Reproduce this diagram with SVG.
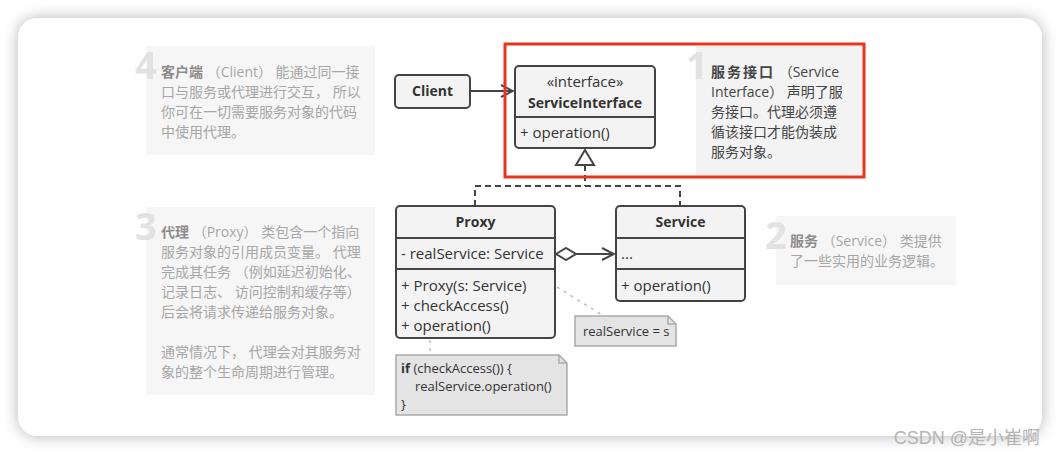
<svg xmlns="http://www.w3.org/2000/svg" width="1060" height="454" viewBox="0 0 1060 454">
<defs>
<filter id="sh" x="-10%" y="-10%" width="120%" height="120%">
<feGaussianBlur in="SourceAlpha" stdDeviation="8"/>
<feComponentTransfer><feFuncA type="linear" slope="0.3"/></feComponentTransfer>
<feMerge><feMergeNode/><feMergeNode in="SourceGraphic"/></feMerge>
</filter>
<marker id="open" viewBox="0 0 14 14" refX="13" refY="7" markerWidth="14" markerHeight="14" markerUnits="userSpaceOnUse" orient="auto">
<path d="M1,1 L13,7 L1,13" fill="none" stroke="#444" stroke-width="2"/>
</marker>
<marker id="dia" viewBox="0 0 24 14" refX="1" refY="7" markerWidth="24" markerHeight="14" markerUnits="userSpaceOnUse" orient="auto">
<path d="M1,7 L11,1 L21,7 L11,13 Z" fill="#fff" stroke="#444" stroke-width="2"/>
</marker>
</defs>
<style>
.box{fill:#f3f3f3;stroke:#444;stroke-width:2}
.ln{stroke:#444;stroke-width:2;fill:none}
.t{font-family:"Open Sans","Noto Sans","Noto Sans CJK SC",sans-serif;font-size:15px;fill:#333}
.b{font-weight:bold}
.h{font-size:14px}
.nb{fill:#f6f6f6}
.nt{font-family:"Open Sans","Noto Sans","Noto Sans CJK SC",sans-serif;font-size:14px;fill:#a6a6a6}
.nt1{fill:#444}
.big{font-family:"Open Sans","Noto Sans",sans-serif;font-size:38px;font-weight:bold;fill:#e2e2e2}
.note{fill:#e4e4e4;stroke:#aaa;stroke-width:1.5}
.ct{font-family:"Open Sans","Noto Sans",sans-serif;font-size:13px;fill:#333}
.dot{stroke:#bbb;stroke-width:1.5;stroke-dasharray:3 5;fill:none}
</style>
<rect width="1060" height="454" fill="#fff"/>
<rect x="18" y="18" width="1024" height="418" rx="20" fill="#fff" filter="url(#sh)"/>

<g id="note4">
<rect class="nb" x="146" y="46" width="229" height="109"/>
<text class="big" x="135" y="79">4</text>
<text class="nt" x="161" y="77"><tspan class="b" fill="#8c8c8c">客户端</tspan> （Client） 能通过同一接</text>
<text class="nt" x="161" y="97">口与服务或代理进行交互， 所以</text>
<text class="nt" x="161" y="117">你可在一切需要服务对象的代码</text>
<text class="nt" x="161" y="137">中使用代理。</text>
</g>

<g id="note3">
<rect class="nb" x="146" y="207" width="229" height="188"/>
<text class="big" x="135" y="240">3</text>
<text class="nt" x="161" y="237"><tspan class="b" fill="#8c8c8c">代理</tspan> （Proxy） 类包含一个指向</text>
<text class="nt" x="161" y="257">服务对象的引用成员变量。 代理</text>
<text class="nt" x="161" y="277">完成其任务 （例如延迟初始化、</text>
<text class="nt" x="161" y="297">记录日志、 访问控制和缓存等）</text>
<text class="nt" x="161" y="317">后会将请求传递给服务对象。</text>
<text class="nt" x="161" y="357">通常情况下， 代理会对其服务对</text>
<text class="nt" x="161" y="377">象的整个生命周期进行管理。</text>
</g>

<g id="note2">
<rect class="nb" x="776" y="216" width="180" height="69"/>
<text class="big" x="765" y="249">2</text>
<text class="nt" x="790" y="246"><tspan class="b" fill="#8c8c8c">服务</tspan> （Service） 类提供</text>
<text class="nt" x="790" y="266">了一些实用的业务逻辑。</text>
</g>

<g id="note1">
<rect x="696" y="46" width="166" height="129" fill="#f3f3f3"/>
<text class="big" x="686" y="79">1</text>
<text class="nt nt1" x="711" y="77"><tspan class="b" letter-spacing="2">服务接口</tspan> （Service</text>
<text class="nt nt1" x="711" y="97">Interface） 声明了服</text>
<text class="nt nt1" x="711" y="117">务接口。代理必须遵</text>
<text class="nt nt1" x="711" y="137">循该接口才能伪装成</text>
<text class="nt nt1" x="711" y="157">服务对象。</text>
</g>

<g id="connectors">
<line class="ln" x1="471" y1="91" x2="513" y2="91" marker-end="url(#open)"/>
<path class="ln" d="M585,165 L585,186 M475,206 L475,186 L680,186 L680,206" stroke-dasharray="6 4"/>
<path d="M585,150 L594,165 L576,165 Z" fill="#fff" stroke="#444" stroke-width="2"/>
<line class="ln" x1="556" y1="254" x2="614" y2="254" marker-start="url(#dia)" marker-end="url(#open)"/>
<line class="dot" x1="557" y1="287" x2="602" y2="315"/>
<line class="dot" x1="430" y1="340" x2="430" y2="355"/>
</g>

<g id="client">
<rect class="box" x="395" y="75" width="75" height="33" rx="4"/>
<text class="t b h" x="432.5" y="96" text-anchor="middle">Client</text>
</g>

<g id="serviceinterface">
<rect class="box" x="515" y="66" width="140" height="82" rx="4"/>
<line class="ln" x1="515" y1="117" x2="655" y2="117"/>
<text class="t" x="585" y="87" text-anchor="middle">«interface»</text>
<text class="t b h" x="585" y="108" text-anchor="middle">ServiceInterface</text>
<text class="t" x="520" y="138">+ operation()</text>
</g>

<rect id="highlight" x="505" y="44" width="359" height="133" fill="none" stroke="#e8341c" stroke-width="3"/>

<g id="proxy">
<rect class="box" x="396" y="206" width="159" height="132" rx="4"/>
<line class="ln" x1="396" y1="238" x2="555" y2="238"/>
<line class="ln" x1="396" y1="269" x2="555" y2="269"/>
<text class="t b h" x="475.5" y="227" text-anchor="middle">Proxy</text>
<text class="t" x="401" y="259">- realService: Service</text>
<text class="t" x="401" y="291">+ Proxy(s: Service)</text>
<text class="t" x="401" y="311">+ checkAccess()</text>
<text class="t" x="401" y="331">+ operation()</text>
</g>

<g id="service">
<rect class="box" x="616" y="206" width="129" height="95" rx="4"/>
<line class="ln" x1="616" y1="238" x2="745" y2="238"/>
<line class="ln" x1="616" y1="269" x2="745" y2="269"/>
<text class="t b h" x="680.5" y="227" text-anchor="middle">Service</text>
<text class="t" x="621" y="259">...</text>
<text class="t" x="621" y="291">+ operation()</text>
</g>

<g id="note-realservice">
<path class="note" d="M575,316 L668,316 L676,324 L676,346 L575,346 Z"/>
<path d="M668,316 L668,324 L676,324" fill="none" stroke="#aaa" stroke-width="1.5"/>
<text class="ct" x="583" y="336">realService = s</text>
</g>

<g id="note-code">
<path class="note" d="M396,355 L559,355 L567,363 L567,415 L396,415 Z"/>
<path d="M559,355 L559,363 L567,363" fill="none" stroke="#aaa" stroke-width="1.5"/>
<text class="ct" x="401" y="373"><tspan font-weight="bold">if</tspan> (checkAccess()) {</text>
<text class="ct" x="415" y="391">realService.operation()</text>
<text class="ct" x="401" y="409">}</text>
</g>

<text x="1040" y="444" text-anchor="end" font-family="'Liberation Sans','Noto Sans CJK SC',sans-serif" font-size="18" fill="#b4b4b4">CSDN @是小崔啊</text>
</svg>
